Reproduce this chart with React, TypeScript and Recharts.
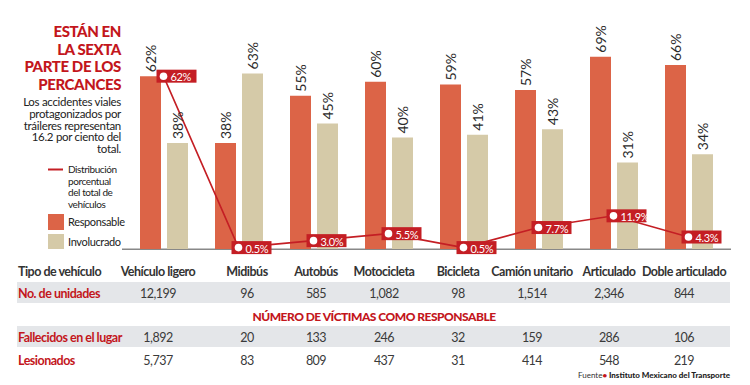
import React from 'react';
import { ComposedChart, Bar, Line, Scatter, XAxis, YAxis, LabelList } from 'recharts';

const categories = ['Vehículo ligero', 'Midibús', 'Autobús', 'Motocicleta', 'Bicicleta', 'Camión unitario', 'Articulado', 'Doble articulado'];
const responsable = [62, 38, 55, 60, 59, 57, 69, 66];
const involucrado = [38, 63, 45, 40, 41, 43, 31, 34];
const distribucion = [62, 0.5, 3.0, 5.5, 0.5, 7.7, 11.9, 4.3];
const distribucionLabels = ['62%', '0.5%', '3.0%', '5.5%', '0.5%', '7.7%', '11.9%', '4.3%'];
const unidades = ['12,199', '96', '585', '1,082', '98', '1,514', '2,346', '844'];
const fallecidos = ['1,892', '20', '133', '246', '32', '159', '286', '106'];
const lesionados = ['5,737', '83', '809', '437', '31', '414', '548', '219'];
const titleLines = ['ESTÁN EN', 'LA SEXTA', 'PARTE DE LOS', 'PERCANCES'];
const subtitleLines = ['Los accidentes viales', 'protagonizados por', 'tráileres representan', '16.2 por ciento del', 'total.'];
const lineLegendLines = ['Distribución', 'porcentual', 'del total de', 'vehículos'];

const data = categories.map((c, i) => ({
  name: c,
  responsable: responsable[i],
  involucrado: involucrado[i],
  distribucion: distribucion[i],
  etiqueta: distribucionLabels[i],
}));

// layout
const COL_X = [158, 247, 316, 384, 458, 532, 609, 684];
const RED = '#c3161c';
const LINE_RED = '#c41e24';
const ORANGE = '#dc6447';
const BEIGE = '#d5caa8';
const BAND = '#e4e6e9';
const FONT = 'Lato, "Open Sans", sans-serif';

const BarValueLabel = (props: any) => {
  const { x, y, width, value } = props;
  const cx = Number(x) + Number(width) / 2;
  const ty = Number(y) - 4;
  return (
    <text
      x={cx}
      y={ty}
      transform={`rotate(-90, ${cx}, ${ty})`}
      textAnchor="start"
      dominantBaseline="central"
      fontFamily={FONT}
      fontSize={14}
      fill="#2b2b2b"
    >
      {`${value}%`}
    </text>
  );
};

const LineTag = (props: any) => {
  const { cx, cy, payload } = props;
  if (cx == null || cy == null) return <g />;
  const px = Number(cx);
  const py = Number(cy);
  const label = payload && payload.etiqueta ? payload.etiqueta : '';
  return (
    <g>
      <rect x={px - 7} y={py - 6.5} width={40} height={13} fill={LINE_RED} />
      <circle cx={px} cy={py} r={3.8} fill="#fff" />
      <text x={px + 7} y={py + 0.5} dominantBaseline="central" fontFamily={FONT} fontSize={11} letterSpacing={-0.4} fill="#fff">
        {label}
      </text>
    </g>
  );
};

const hdr = { fontFamily: FONT, fontWeight: 700, fontSize: 12.5, letterSpacing: -0.5 } as const;
const num = { fontFamily: FONT, fontSize: 12.5, letterSpacing: -0.5, fill: '#3a3a3a' } as const;

const Overlay = () => (
  <svg width={750} height={385} style={{ position: 'absolute', left: 0, top: 0, pointerEvents: 'none' }}>
    {titleLines.map((t, i) => (
      <text key={t} x={121} y={37 + i * 17.5} textAnchor="end" fontFamily={FONT} fontWeight={900} fontSize={15} letterSpacing={-0.4} fill={RED}>
        {t}
      </text>
    ))}
    {subtitleLines.map((t, i) => (
      <text key={t} x={121} y={106 + i * 11.8} textAnchor="end" fontFamily={FONT} fontSize={11.5} letterSpacing={-0.3} fill="#222">
        {t}
      </text>
    ))}
    <line x1={48} x2={63} y1={169.5} y2={169.5} stroke={LINE_RED} strokeWidth={2} />
    {lineLegendLines.map((t, i) => (
      <text key={t} x={68} y={173 + i * 11.5} fontFamily={FONT} fontSize={10} letterSpacing={-0.4} fill="#222">
        {t}
      </text>
    ))}
    <rect x={48} y={214} width={16} height={16} fill={ORANGE} />
    <text x={68} y={226} fontFamily={FONT} fontSize={11} letterSpacing={-0.35} fill="#222">Responsable</text>
    <rect x={48} y={234} width={16} height={15} fill={BEIGE} />
    <text x={68} y={246} fontFamily={FONT} fontSize={11} letterSpacing={-0.35} fill="#222">Involucrado</text>
    <rect x={17} y={282} width={713} height={21} fill={BAND} />
    <rect x={17} y={326} width={713} height={21} fill={BAND} />
    <text x={18} y={276} {...hdr} fill="#333">Tipo de vehículo</text>
    {categories.map((c, i) => (
      <text key={c} x={COL_X[i]} y={276} textAnchor="middle" {...hdr} fill="#333">
        {c}
      </text>
    ))}
    <text x={18} y={298} {...hdr} fill={RED}>No. de unidades</text>
    {unidades.map((v, i) => (
      <text key={i} x={COL_X[i]} y={298} textAnchor="middle" {...num}>
        {v}
      </text>
    ))}
    <text x={374} y={320.5} textAnchor="middle" fontFamily={FONT} fontWeight={900} fontSize={12} letterSpacing={-0.5} fill={RED}>
      NÚMERO DE VÍCTIMAS COMO RESPONSABLE
    </text>
    <text x={18} y={342} {...hdr} fill={RED}>Fallecidos en el lugar</text>
    {fallecidos.map((v, i) => (
      <text key={i} x={COL_X[i]} y={342} textAnchor="middle" {...num}>
        {v}
      </text>
    ))}
    <text x={18} y={365} {...hdr} fill={RED}>Lesionados</text>
    {lesionados.map((v, i) => (
      <text key={i} x={COL_X[i]} y={365} textAnchor="middle" {...num}>
        {v}
      </text>
    ))}
    <text x={730} y={378} textAnchor="end" fontFamily={FONT} fontSize={8}>
      <tspan fill="#333">Fuente</tspan>
      <tspan fill={RED} fontWeight={900}>• </tspan>
      <tspan fill="#222" fontWeight={900}>Instituto Mexicano del Transporte</tspan>
    </text>
  </svg>
);

export default function App() {
  return (
    <div style={{ position: 'absolute', left: 0, top: 0, width: 750, height: 385, background: '#fff', overflow: 'hidden' }}>
      <svg width={750} height={385} style={{ position: 'absolute', left: 0, top: 0 }}>
        <line x1={122} x2={731} y1={249.2} y2={249.2} stroke="#888" strokeWidth={1.6} />
      </svg>
      <div style={{ position: 'absolute', left: 0, top: 0 }}>
        <ComposedChart
          width={750}
          height={385}
          data={data}
          margin={{ top: 26, right: 24, bottom: 136, left: 126 }}
          barGap={6}
          barCategoryGap={13.5}
        >
          <XAxis dataKey="name" hide />
          <YAxis domain={[0, 80]} hide />
          <Bar dataKey="responsable" fill={ORANGE} barSize={21} isAnimationActive={false}>
            <LabelList dataKey="responsable" content={BarValueLabel} />
          </Bar>
          <Bar dataKey="involucrado" fill={BEIGE} barSize={21} isAnimationActive={false}>
            <LabelList dataKey="involucrado" content={BarValueLabel} />
          </Bar>
          <Line dataKey="distribucion" stroke={LINE_RED} strokeWidth={1.6} dot={false} activeDot={false} type="linear" isAnimationActive={false} />
          <Scatter dataKey="distribucion" shape={LineTag} isAnimationActive={false} />
        </ComposedChart>
      </div>
      <Overlay />
    </div>
  );
}
